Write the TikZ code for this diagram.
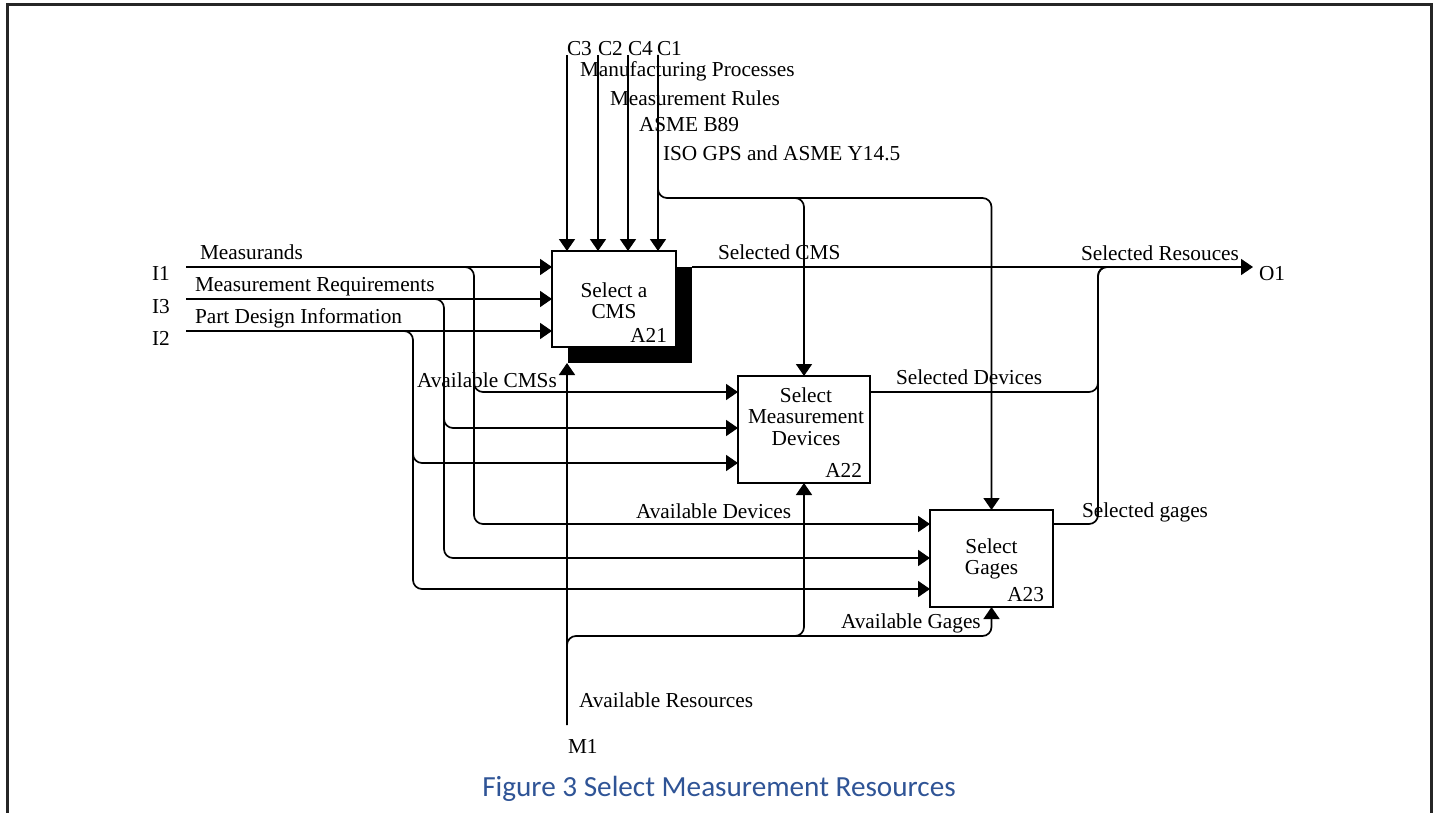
\documentclass[tikz,border=0pt]{standalone}
\usepackage{fontspec}
\setmainfont{Liberation Serif}
\newfontfamily\capfont{Carlito}
\usetikzlibrary{arrows.meta,calc}
\definecolor{capblue}{HTML}{2F5496}
\begin{document}
\begin{tikzpicture}[x=0.5pt,y=-0.5pt,
  lbl/.style={inner sep=0pt, outer sep=0pt, anchor=base west,
    font=\fontsize{10.65}{10.7}\selectfont},
  boxtxt/.style={inner sep=0pt, outer sep=0pt, align=center,
    font=\fontsize{10.65}{10.75}\selectfont},
  boxid/.style={inner sep=0pt, outer sep=0pt, anchor=base east,
    font=\fontsize{10.65}{10.7}\selectfont},
  box/.style={draw, line width=0.75pt, fill=white, inner sep=0pt, outer sep=0pt},
  shadow/.style={fill=black, inner sep=0pt, outer sep=0pt},
  flow/.style={line width=0.85pt, rounded corners=4.5pt},
  arr/.style={flow, -{Triangle[length=6pt,width=8pt]}}
]
\path[use as bounding box] (0,0) rectangle (1439,813);

% page frame
\draw[line width=1.5pt, black!85] (7,813) -- (7,5) -- (1431,5) -- (1431,813);

% activity boxes
\node[shadow, minimum width=62pt, minimum height=48pt] (a21s) at (630,315) {};
\node[box, minimum width=62pt, minimum height=48pt] (a21) at (614,299) {};
\node[box, minimum width=66pt, minimum height=53.5pt] (a22) at (804,429.5) {};
\node[box, minimum width=61.5pt, minimum height=48.5pt] (a23) at (991.5,558.5) {};

\node[boxtxt] (a21t) at (614,300.5) {Select a\\CMS};
\node[boxtxt] (a22t) at (806,416.5) {Select\\Measurement\\Devices};
\node[boxtxt] (a23t) at (991.5,559) {Select\\Gages};
\node[boxid] (a21n) at ($(a21.south east)+(-9,-5)$) {A21};
\node[boxid] (a22n) at ($(a22.south east)+(-8,-6)$) {A22};
\node[boxid] (a23n) at ($(a23.south east)+(-9,-6)$) {A23};

% boundary points and bus lines
\coordinate (i1) at (186,267);
\coordinate (i3) at (186,299);
\coordinate (i2) at (186,331);
\coordinate (c3) at (567,55);
\coordinate (c2) at (598,55);
\coordinate (c4) at (628,55);
\coordinate (c1) at (658,55);
\coordinate (m1) at (567,725);
\coordinate (o1) at (1253,267);
\coordinate (cbus) at (700,198);
\coordinate (mbus) at (700,636);
\coordinate (join) at (1098,267);
\coordinate (va) at (474,0);
\coordinate (vb) at (444,0);
\coordinate (vc) at (413,0);
\coordinate (ra) at (0,392);
\coordinate (rb) at (0,428);
\coordinate (rc) at (0,463);
\coordinate (rd) at (0,524);
\coordinate (re) at (0,558);
\coordinate (rf) at (0,589);

% inputs
\draw[arr] (i1) -- (i1 -| a21.west);
\draw[arr] (i3) -- (i3 -| a21.west);
\draw[arr] (i2) -- (i2 -| a21.west);
\draw[arr] (i1) -| (va |- rd) -- (a23.west |- rd);
\draw[arr] (i3) -| (vb |- re) -- (a23.west |- re);
\draw[arr] (i2) -| (vc |- rf) -- (a23.west |- rf);
\draw[arr] ($(va |- ra)+(0,-20)$) -- (va |- ra) -- (a22.west |- ra);
\draw[arr] ($(vb |- rb)+(0,-20)$) -- (vb |- rb) -- (a22.west |- rb);
\draw[arr] ($(vc |- rc)+(0,-20)$) -- (vc |- rc) -- (a22.west |- rc);

% controls
\draw[arr] (c3) -- (c3 |- a21.north);
\draw[arr] (c2) -- (c2 |- a21.north);
\draw[arr] (c4) -- (c4 |- a21.north);
\draw[arr] (c1) -- (c1 |- a21.north);
\draw[arr] (c1) |- (cbus) -| (a23.north);
\draw[arr] (cbus) -| (a22.north);

% mechanisms
\draw[arr] (m1) -- (m1 |- a21s.south);
\draw[arr] (m1) |- (mbus) -| (a23.south);
\draw[arr] (mbus) -| (a22.south);

% outputs
\draw[arr] (a21s.north east) -- (o1);
\draw[flow] (a22.east |- ra) -| (join) -- ++(40,0);
\draw[flow] (a23.east |- rd) -| (join) -- ++(40,0);

% boundary labels
\node[lbl] (li1) at (152,280) {I1};
\node[lbl] (li3) at (152,313) {I3};
\node[lbl] (li2) at (152,345) {I2};
\node[lbl] (lmeas) at (200,259) {Measurands};
\node[lbl] (lreq) at (195,291) {Measurement Requirements};
\node[lbl] (lpdi) at (195,323) {Part Design Information};
\node[lbl] (lc3) at (567,56) {C3};
\node[lbl] (lc2) at (598,56) {C2};
\node[lbl] (lc4) at (628,56) {C4};
\node[lbl] (lc1) at (657,56) {C1};
\node[lbl] (lmp) at (580,77) {Manufacturing Processes};
\node[lbl] (lmr) at (610,105) {Measurement Rules};
\node[lbl] (lb89) at (639,132) {ASME B89};
\node[lbl] (liso) at (663,160) {ISO GPS and ASME Y14.5};
\node[lbl] (lscms) at (718,259) {Selected CMS};
\node[lbl] (lsres) at (1081,260) {Selected Resouces};
\node[lbl] (lo1) at (1259,280) {O1};
\node[lbl] (lsdev) at (896,384) {Selected Devices};
\node[lbl] (lsgag) at (1082,517) {Selected gages};
\node[lbl] (lacms) at (417,387) {Available CMSs};
\node[lbl] (ladev) at (636,518) {Available Devices};
\node[lbl] (lagag) at (841,628) {Available Gages};
\node[lbl] (lares) at (579,707) {Available Resources};
\node[lbl] (lm1) at (568,753) {M1};

% caption
\node[inner sep=0pt, anchor=base, text=capblue,
  font=\capfont\fontsize{14.6}{16}\selectfont] (cap) at (719,796)
  {Figure 3 Select Measurement Resources};
\end{tikzpicture}
\end{document}
